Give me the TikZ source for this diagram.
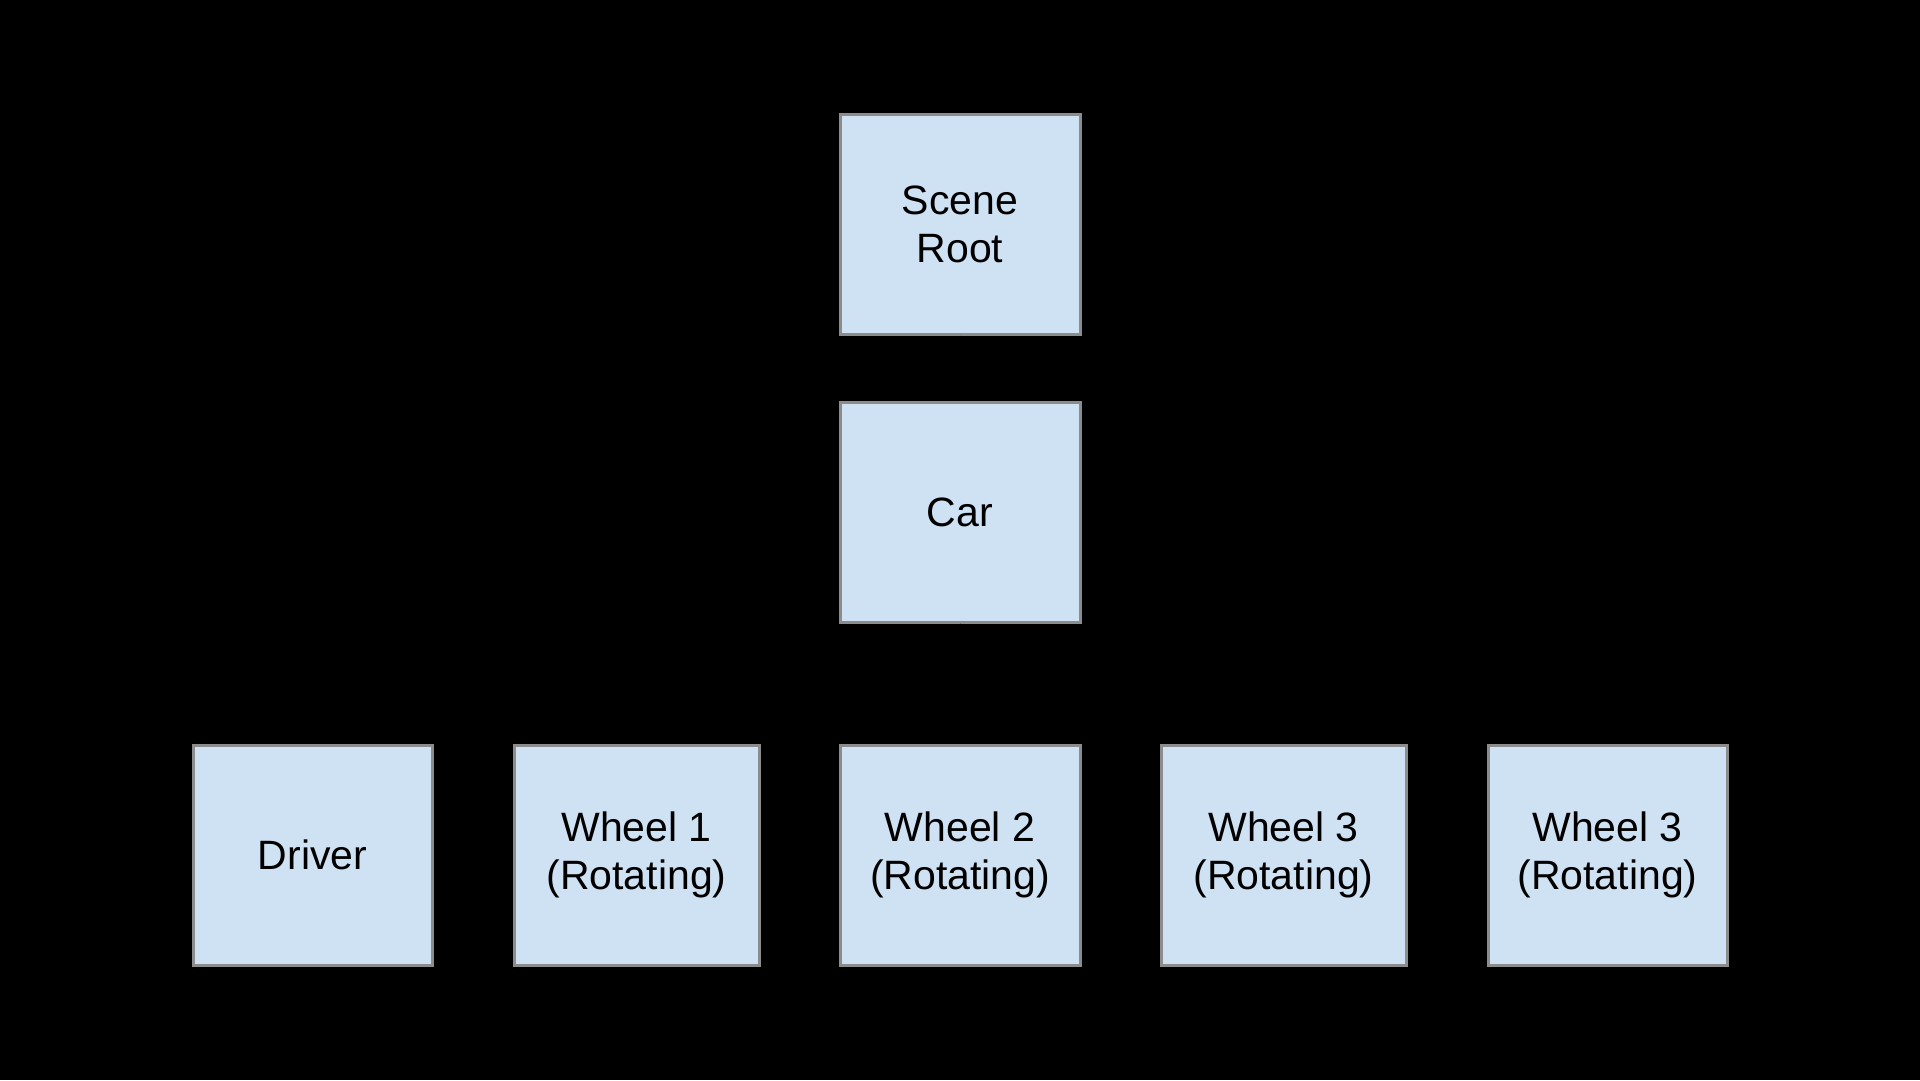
\documentclass[tikz,border=0pt]{standalone}
\usepackage{fontspec}
\setmainfont{Liberation Sans}
\usetikzlibrary{arrows.meta}
\definecolor{boxfill}{HTML}{CFE2F3}
\definecolor{boxedge}{HTML}{8C8C8C}
\begin{document}
\begin{tikzpicture}[x=1pt,y=-1pt,
  nodebox/.style={draw=boxedge,line width=3pt,fill=boxfill,rectangle,
    minimum height=220pt,inner sep=0pt,align=center,
    font=\fontsize{41}{48}\selectfont,text=black},
  link/.style={draw=black,line width=2pt,-{Stealth[length=12pt,width=10pt]}}]
  \fill[black] (0,0) rectangle (1920,1080);
  \useasboundingbox (0,0) rectangle (1920,1080);
  \node[nodebox,minimum width=240pt] (root) at (960,224) {Scene\\Root};
  \node[nodebox,minimum width=240pt] (car) at (960,512) {Car};
  \node[nodebox,minimum width=239pt] (driver) at (312.5,855) {Driver};
  \node[nodebox,minimum width=245pt] (w1) at (636.5,855) {Wheel 1\\(Rotating)};
  \node[nodebox,minimum width=240pt] (w2) at (960,855) {Wheel 2\\(Rotating)};
  \node[nodebox,minimum width=245pt] (w3) at (1283.5,855) {Wheel 3\\(Rotating)};
  \node[nodebox,minimum width=239pt] (w4) at (1607.5,855) {Wheel 3\\(Rotating)};
  \draw[link] (root.south) -- (car.north);
  \draw[link] (car.south) -- ++(0,61) -| (driver.north);
  \draw[link] (car.south) -- ++(0,61) -| (w1.north);
  \draw[link] (car.south) -- (w2.north);
  \draw[link] (car.south) -- ++(0,61) -| (w3.north);
  \draw[link] (car.south) -- ++(0,61) -| (w4.north);
\end{tikzpicture}
\end{document}
